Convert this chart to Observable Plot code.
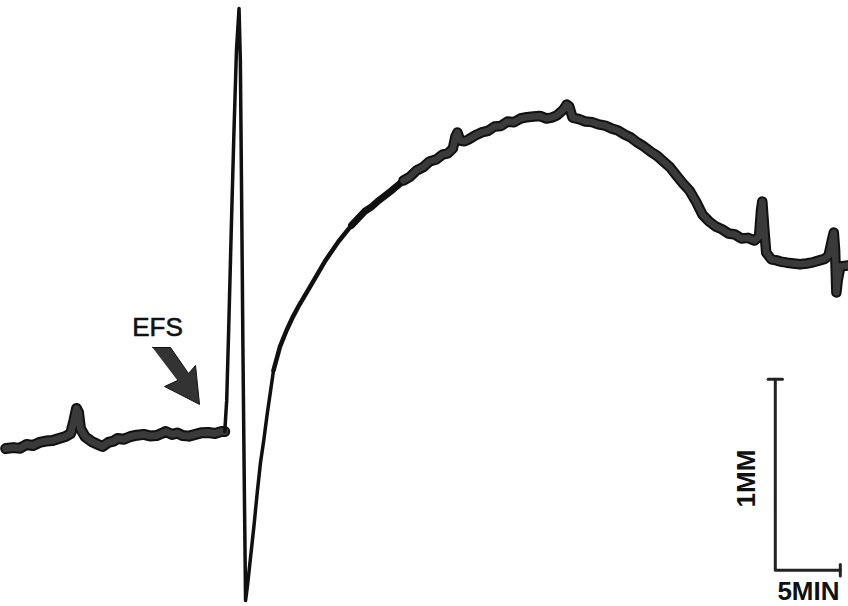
<!DOCTYPE html>
<html><head><meta charset="utf-8">
<script src="https://cdn.jsdelivr.net/npm/d3@7"></script>
<script src="https://cdn.jsdelivr.net/npm/@observablehq/plot@0.6"></script>
<style>html,body{margin:0;padding:0;background:#fff;overflow:hidden}</style>
</head><body><div id="chart"></div>
<script>
// Tension trace (mm) vs time (min)
const baselineTime    = [0.4, 1.0, 1.5, 2.0, 2.5, 3.0, 3.5, 4.0, 4.5, 5.0, 5.4, 5.65, 5.85, 6.0, 6.15, 6.5, 7.0, 7.5, 7.85, 8.3, 8.7, 9.0, 9.5, 10, 10.5, 11, 11.5, 12, 12.4, 12.7, 13.2, 13.6, 14, 14.5, 15, 15.5, 16, 16.5, 17, 17.25];
const baselineTension = [0.827, 0.832, 0.828, 0.848, 0.843, 0.859, 0.866, 0.869, 0.880, 0.890, 0.906, 0.974, 1.037, 1.016, 0.932, 0.890, 0.864, 0.848, 0.838, 0.859, 0.866, 0.880, 0.876, 0.890, 0.897, 0.901, 0.893, 0.895, 0.906, 0.916, 0.901, 0.908, 0.895, 0.892, 0.901, 0.910, 0.911, 0.906, 0.916, 0.916];

const responseTime    = [17.25, 17.4, 17.55, 17.75, 17.95, 18.15, 18.35, 18.45, 18.55, 18.65, 18.75, 18.85, 19.0, 19.25, 19.5, 19.75, 20, 20.25, 20.5, 21];
const responseTension = [0.916, 1.079, 1.445, 1.969, 2.466, 2.911, 3.131, 2.859, 2.126, 1.340, 0.660, 0.031, 0.110, 0.267, 0.424, 0.597, 0.754, 0.869, 1.000, 1.236];

const recoveryTime    = [21, 21.5, 22, 22.5, 23, 24, 25, 26, 27];
const recoveryTension = [1.236, 1.361, 1.445, 1.518, 1.581, 1.696, 1.812, 1.911, 1.995];

const lateRecoveryTime    = [27, 28, 28.5, 29, 30, 31];
const lateRecoveryTension = [1.995, 2.068, 2.090, 2.120, 2.173, 2.230];

const plateauTime    = [31, 31.5, 32, 32.5, 33, 33.5, 34, 34.4, 34.8, 35.0, 35.15, 35.35, 35.7, 36, 36.5, 37, 37.5, 38, 38.5, 39, 39.5, 40, 40.5, 41, 41.5, 42, 42.4, 42.8, 43.3, 43.55, 43.75, 44, 44.5, 45, 45.5, 46, 46.5, 47, 47.5, 48, 48.5, 49, 49.5, 50, 50.5, 51, 51.5, 52, 52.5, 53, 53.5, 54, 54.5, 55, 55.5, 56, 56.5, 57, 57.5, 58, 58.35, 58.5, 58.6, 58.75, 58.9, 59.3, 59.7, 60, 60.5, 61, 61.5, 62, 62.5, 63, 63.4, 63.7, 63.95, 64.1, 64.2, 64.3, 64.4, 64.6, 65.2];
const plateauTension = [2.230, 2.250, 2.283, 2.300, 2.330, 2.340, 2.366, 2.372, 2.398, 2.461, 2.482, 2.440, 2.436, 2.445, 2.466, 2.482, 2.490, 2.513, 2.516, 2.539, 2.535, 2.555, 2.562, 2.565, 2.568, 2.555, 2.560, 2.571, 2.602, 2.628, 2.618, 2.560, 2.552, 2.539, 2.536, 2.524, 2.518, 2.503, 2.492, 2.471, 2.455, 2.429, 2.408, 2.382, 2.360, 2.330, 2.300, 2.257, 2.215, 2.178, 2.120, 2.052, 2.016, 1.990, 1.975, 1.953, 1.948, 1.927, 1.930, 1.916, 1.937, 2.073, 2.120, 1.979, 1.853, 1.817, 1.812, 1.806, 1.800, 1.796, 1.792, 1.796, 1.802, 1.812, 1.820, 1.838, 1.916, 1.958, 1.864, 1.644, 1.707, 1.780, 1.785];

// EFS arrow annotation (min, mm)
const arrowTime    = [11.69, 13.08, 14.46, 15.0, 15.31, 12.62, 13.62];
const arrowTension = [1.356, 1.356, 1.220, 1.262, 1.058, 1.152, 1.183];
const labelText = ["EFS", "1MM", "5MIN"];
const labelTime = [12.08, 57.38, 62.15];
const labelTension = [1.461, 0.670, 0.079];

// Scale bar: 1 mm vertical, 5 min horizontal
const scaleBarTime    = [59.6, 59.6, 64.6];
const scaleBarTension = [1.19, 0.19, 0.19];

const rows = (ts, vs) => ts.map((t, i) => ({t, v: vs[i]}));
const baseline = rows(baselineTime, baselineTension);
const response = rows(responseTime, responseTension);
const recovery = rows(recoveryTime, recoveryTension);
const lateRecovery = rows(lateRecoveryTime, lateRecoveryTension);
const plateau = rows(plateauTime, plateauTension);
const arrow = rows(arrowTime, arrowTension);
const bar = rows(scaleBarTime, scaleBarTension);
const topCap = [{t: scaleBarTime[0] - 0.55, v: scaleBarTension[0]}, {t: scaleBarTime[0] + 0.55, v: scaleBarTension[0]}];
const endCap = [{t: scaleBarTime[2], v: scaleBarTension[2] - 0.03}, {t: scaleBarTime[2], v: scaleBarTension[2] + 0.03}];
const labels = labelText.map((s, i) => ({s, t: labelTime[i], v: labelTension[i]}));

const ink = "#101010", tone = "#3a3a3a";
const lineOpts = (w, c) => ({x: "t", y: "v", stroke: c, strokeWidth: w, strokeLinejoin: "round", strokeLinecap: "round", curve: "linear"});
const font = "Liberation Sans, Arial, sans-serif";

const chart = Plot.plot({
  width: 848, height: 606,
  margin: 0, marginTop: 0, marginRight: 0, marginBottom: 0, marginLeft: 0,
  x: {domain: [0, 848 / 13], axis: null},
  y: {domain: [0, 606 / 191], axis: null},
  marks: [
    Plot.line(baseline, lineOpts(11, ink)),
    Plot.line(baseline, lineOpts(7, tone)),
    Plot.line(response, lineOpts(3.5, ink)),
    Plot.line(recovery, lineOpts(4.5, ink)),
    Plot.line(lateRecovery, lineOpts(7, ink)),
    Plot.line(plateau, lineOpts(10.5, ink)),
    Plot.line(plateau, lineOpts(6.5, tone)),
    Plot.line(arrow, {x: "t", y: "v", fill: "#333", stroke: ink, strokeWidth: 1, strokeLinejoin: "miter"}),
    Plot.line(bar, lineOpts(3, "#222")),
    Plot.line(topCap, lineOpts(3, "#222")),
    Plot.line(endCap, lineOpts(3, "#222")),
    Plot.text(labels.slice(0, 1), {x: "t", y: "v", text: "s", fontSize: 26, fill: "#111", stroke: "#111", strokeWidth: 0.6, fontFamily: font, fontWeight: "normal"}),
    Plot.text(labels.slice(1, 2), {x: "t", y: "v", text: "s", fontSize: 26, rotate: -90, fill: "#111", fontFamily: font, fontWeight: "bold"}),
    Plot.text(labels.slice(2, 3), {x: "t", y: "v", text: "s", fontSize: 26, fill: "#111", fontFamily: font, fontWeight: "bold", letterSpacing: "5px"})
  ]
});
document.getElementById("chart").appendChild(chart);
</script>
</body></html>
